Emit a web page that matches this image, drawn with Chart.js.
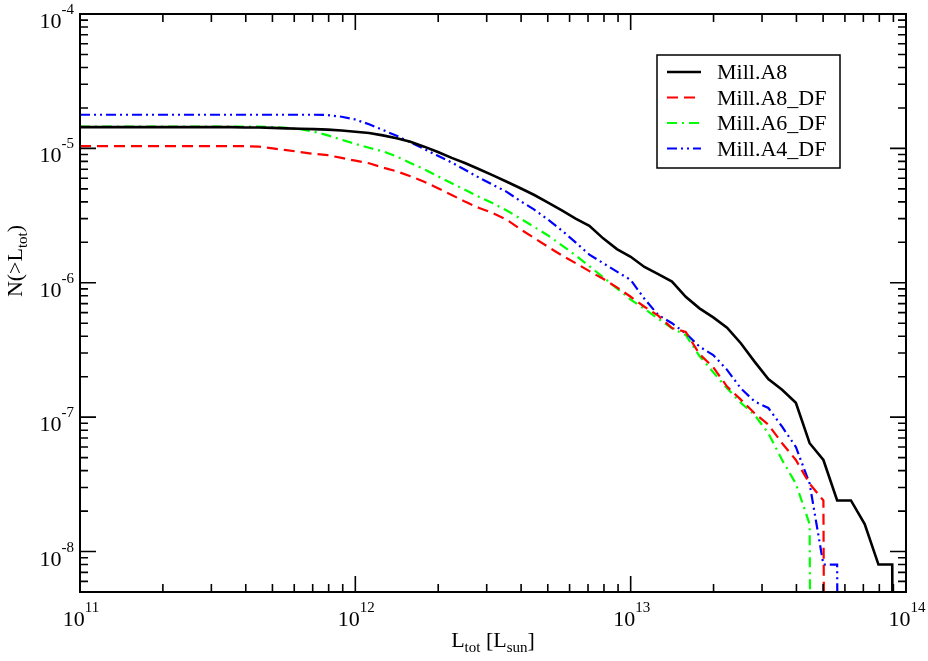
<!DOCTYPE html>
<html><head><meta charset="utf-8">
<script src="https://cdn.jsdelivr.net/npm/chart.js@4.4.1/dist/chart.umd.min.js"></script>
<style>html,body{margin:0;padding:0;background:#fff;}canvas{display:block;}</style>
</head><body>
<canvas id="c" width="928" height="661"></canvas>
<script>
// Luminosity bins L_tot [L_sun] (0.05 dex)
const L_tot = [
 1.000e11,1.122e11,1.259e11,1.413e11,1.585e11,1.778e11,1.995e11,2.239e11,2.512e11,2.818e11,
 3.162e11,3.548e11,3.981e11,4.467e11,5.012e11,5.623e11,6.310e11,7.079e11,7.943e11,8.913e11,
 1.000e12,1.122e12,1.259e12,1.413e12,1.585e12,1.778e12,1.995e12,2.239e12,2.512e12,2.818e12,
 3.162e12,3.548e12,3.981e12,4.467e12,5.012e12,5.623e12,6.310e12,7.079e12,7.943e12,8.913e12,
 1.000e13,1.122e13,1.259e13,1.413e13,1.585e13,1.778e13,1.995e13,2.239e13,2.512e13,2.818e13,
 3.162e13,3.548e13,3.981e13,4.467e13,5.012e13,5.623e13,6.310e13,7.079e13,7.943e13,8.913e13,
 1.000e14
];
// N(>L_tot) for each model (0 = no objects beyond this bin)
const millA8 = [
 1.44e-5,1.44e-5,1.44e-5,1.44e-5,1.44e-5,1.44e-5,1.44e-5,1.44e-5,1.44e-5,1.44e-5,
 1.44e-5,1.44e-5,1.43e-5,1.43e-5,1.42e-5,1.41e-5,1.40e-5,1.39e-5,1.38e-5,1.36e-5,
 1.33e-5,1.30e-5,1.25e-5,1.19e-5,1.12e-5,1.03e-5,9.4e-6,8.5e-6,7.75e-6,7.0e-6,
 6.3e-6,5.65e-6,5.05e-6,4.5e-6,3.95e-6,3.45e-6,3.0e-6,2.65e-6,2.14e-6,1.78e-6,
 1.56e-6,1.31e-6,1.16e-6,1.02e-6,7.86e-7,6.45e-7,5.53e-7,4.63e-7,3.55e-7,2.59e-7,
 1.92e-7,1.60e-7,1.28e-7,6.4e-8,4.8e-8,2.4e-8,2.4e-8,1.6e-8,8e-9,8e-9,
 0
];
const millA8_DF = [
 1.04e-5,1.04e-5,1.04e-5,1.04e-5,1.04e-5,1.04e-5,1.04e-5,1.04e-5,1.04e-5,1.04e-5,
 1.04e-5,1.04e-5,1.04e-5,1.03e-5,1.00e-5,9.7e-6,9.4e-6,9.1e-6,8.9e-6,8.5e-6,
 8.1e-6,7.75e-6,7.2e-6,6.75e-6,6.2e-6,5.65e-6,5.05e-6,4.5e-6,4.0e-6,3.6e-6,
 3.3e-6,2.95e-6,2.5e-6,2.15e-6,1.85e-6,1.6e-6,1.4e-6,1.22e-6,1.07e-6,9.25e-7,
 7.87e-7,6.63e-7,5.7e-7,4.6e-7,4.3e-7,2.95e-7,2.35e-7,1.69e-7,1.35e-7,1.07e-7,
 8.8e-8,6.4e-8,4.8e-8,3.2e-8,2.4e-8,0
];
const millA6_DF = [
 1.45e-5,1.45e-5,1.45e-5,1.45e-5,1.45e-5,1.45e-5,1.45e-5,1.45e-5,1.45e-5,1.45e-5,
 1.45e-5,1.45e-5,1.45e-5,1.45e-5,1.44e-5,1.42e-5,1.39e-5,1.33e-5,1.25e-5,1.16e-5,
 1.08e-5,1.01e-5,9.5e-6,8.7e-6,7.8e-6,7.0e-6,6.2e-6,5.5e-6,4.9e-6,4.35e-6,
 3.9e-6,3.45e-6,3.0e-6,2.6e-6,2.25e-6,1.9e-6,1.6e-6,1.33e-6,1.1e-6,9.1e-7,
 7.5e-7,6.4e-7,5.4e-7,4.58e-7,4.09e-7,2.85e-7,2.16e-7,1.64e-7,1.28e-7,1.04e-7,
 7.6e-8,4.8e-8,3.2e-8,1.6e-8,0
];
const millA4_DF = [
 1.78e-5,1.78e-5,1.78e-5,1.78e-5,1.78e-5,1.78e-5,1.78e-5,1.78e-5,1.78e-5,1.78e-5,
 1.78e-5,1.78e-5,1.78e-5,1.78e-5,1.78e-5,1.78e-5,1.78e-5,1.78e-5,1.77e-5,1.72e-5,
 1.64e-5,1.51e-5,1.37e-5,1.24e-5,1.11e-5,9.9e-6,8.8e-6,7.85e-6,6.9e-6,6.05e-6,
 5.35e-6,4.75e-6,4.05e-6,3.5e-6,2.95e-6,2.45e-6,2.0e-6,1.62e-6,1.40e-6,1.21e-6,
 1.05e-6,7.6e-7,5.76e-7,5.0e-7,4.2e-7,3.35e-7,2.9e-7,2.25e-7,1.64e-7,1.31e-7,
 1.17e-7,8.5e-8,6.0e-8,3.2e-8,8e-9,8e-9,0
];
const seriesNames = ['Mill.A8','Mill.A8_DF','Mill.A6_DF','Mill.A4_DF'];
const seriesValues = [millA8, millA8_DF, millA6_DF, millA4_DF];
const xMajorTicks = [1e11,1e12,1e13,1e14];
const xTickExp = ['11','12','13','14'];
const yMajorTicks = [1e-4,1e-5,1e-6,1e-7,1e-8];
const yTickExp = ['-4','-5','-6','-7','-8'];

const styles = [
  {color:'#000000', width:2.6, dash:[]},
  {color:'#ff0000', width:2.2, dash:[11,6]},
  {color:'#00ff00', width:2.2, dash:[10,5,2,5]},
  {color:'#0000ff', width:2.2, dash:[10,4,2,4,2,4]}
];
const LOG_ZERO = 1e-30; // log(0) -> -infinity, drawn as a vertical drop

const datasets = seriesNames.map((name,i)=>({
  label:name,
  data: seriesValues[i].map((v,k)=>({x:L_tot[k], y: v>0 ? v : LOG_ZERO})),
  borderColor: styles[i].color,
  borderWidth: styles[i].width,
  borderDash: styles[i].dash,
  pointRadius:0, showLine:true, tension:0, fill:false,
  borderJoinStyle:'miter', borderCapStyle:'butt'
}));

const SERIF = '"Liberation Serif","Times New Roman",serif';
function drawParts(ctx, parts, x, y, align){
  let total=0;
  parts.forEach(p=>{ctx.font=p.size+'px '+SERIF; p.w=ctx.measureText(p.t).width; total+=p.w;});
  let cx = align==='center' ? x-total/2 : (align==='right' ? x-total : x);
  ctx.textAlign='left'; ctx.textBaseline='alphabetic';
  parts.forEach(p=>{ctx.font=p.size+'px '+SERIF; ctx.fillText(p.t, cx, y+(p.dy||0)); cx+=p.w;});
}

const framePlugin = {
  id:'frame',
  afterDraw(chart){
    const ctx=chart.ctx, a=chart.chartArea, xs=chart.scales.x, ys=chart.scales.y;
    ctx.save();
    ctx.strokeStyle='#000'; ctx.fillStyle='#000';
    ctx.lineWidth=1.6;
    const tick=(px,len,horiz)=>{
      ctx.beginPath();
      if(horiz){
        ctx.moveTo(px,a.bottom); ctx.lineTo(px,a.bottom-len);
        ctx.moveTo(px,a.top); ctx.lineTo(px,a.top+len);
      } else {
        ctx.moveTo(a.left,px); ctx.lineTo(a.left+len,px);
        ctx.moveTo(a.right,px); ctx.lineTo(a.right-len,px);
      }
      ctx.stroke();
    };
    xMajorTicks.forEach((d,i)=>{
      const p=xs.getPixelForValue(d);
      if(p>a.left+1 && p<a.right-1) tick(p,16,true);
      if(i<xMajorTicks.length-1) for(let m=2;m<=9;m++) tick(xs.getPixelForValue(d*m),8,true);
    });
    yMajorTicks.forEach(d=>{
      const p=ys.getPixelForValue(d);
      if(p>a.top+1 && p<a.bottom-1) tick(p,16,false);
      for(let m=2;m<=9;m++){
        const v=d*m/10, q=ys.getPixelForValue(v);
        if(q>a.top+1 && q<a.bottom-1) tick(q,8,false);
      }
    });
    ctx.lineWidth=2;
    ctx.strokeRect(a.left,a.top,a.right-a.left,a.bottom-a.top);
    xMajorTicks.forEach((d,i)=>{
      drawParts(ctx,[{t:'10',size:22},{t:xTickExp[i],size:15,dy:-14}], xs.getPixelForValue(d)+1, 626, 'center');
    });
    yMajorTicks.forEach((d,i)=>{
      const p=ys.getPixelForValue(d);
      drawParts(ctx,[{t:'10',size:22},{t:yTickExp[i],size:15,dy:-14}], 74, p+14, 'right');
    });
    drawParts(ctx,[{t:'L',size:22},{t:'tot',size:15,dy:5},{t:' [L',size:22},{t:'sun',size:15,dy:5},{t:']',size:22}], (a.left+a.right)/2, 647, 'center');
    ctx.save();
    ctx.translate(22,261); ctx.rotate(-Math.PI/2);
    drawParts(ctx,[{t:'N(>L',size:22},{t:'tot',size:15,dy:5},{t:')',size:22}], 0, 0, 'center');
    ctx.restore();
    ctx.lineWidth=1.5;
    ctx.strokeRect(657,55,183,113);
    const rows=[72,97.5,123,148.5];
    chart.data.datasets.forEach((ds,i)=>{
      ctx.save();
      ctx.strokeStyle=ds.borderColor; ctx.lineWidth=ds.borderWidth; ctx.setLineDash(ds.borderDash);
      ctx.beginPath(); ctx.moveTo(667,rows[i]); ctx.lineTo(701,rows[i]); ctx.stroke();
      ctx.restore();
      ctx.fillStyle='#000';
      drawParts(ctx,[{t:ds.label,size:22}],717,rows[i]+7,'left');
    });
    ctx.restore();
  }
};

new Chart(document.getElementById('c'),{
  type:'scatter',
  data:{datasets},
  options:{
    responsive:false, animation:false, devicePixelRatio:1,
    layout:{padding:{left:80,right:22,top:14,bottom:69}},
    plugins:{legend:{display:false},tooltip:{enabled:false}},
    scales:{
      x:{type:'logarithmic',min:1e11,max:1e14,display:false},
      y:{type:'logarithmic',min:5e-9,max:1e-4,display:false}
    }
  },
  plugins:[framePlugin]
});
</script>
</body></html>
